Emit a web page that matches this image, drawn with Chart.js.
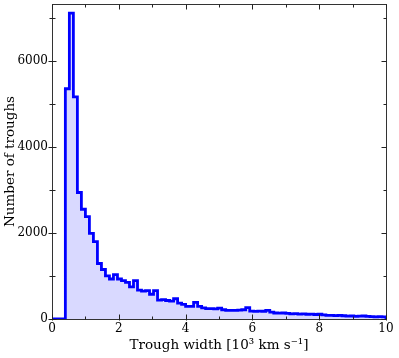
<!DOCTYPE html>
<html>
<head>
<meta charset="utf-8">
<script src="https://cdn.jsdelivr.net/npm/chart.js@4/dist/chart.umd.min.js"></script>
<style>
  html, body { margin: 0; padding: 0; background: #ffffff; }
  #wrap { width: 399px; height: 358px; }
</style>
</head>
<body>
<div id="wrap"><canvas id="c" width="399" height="358"></canvas></div>
<script>
// Histogram bin edges (10^3 km/s)
const binEdges = [0.40, 0.52, 0.64, 0.76, 0.88, 1.00, 1.12, 1.24, 1.36, 1.48,
  1.60, 1.72, 1.84, 1.96, 2.08, 2.20, 2.32, 2.44, 2.56, 2.68,
  2.80, 2.92, 3.04, 3.16, 3.28, 3.40, 3.52, 3.64, 3.76, 3.88,
  4.00, 4.12, 4.24, 4.36, 4.48, 4.60, 4.72, 4.84, 4.96, 5.08,
  5.20, 5.32, 5.44, 5.56, 5.68, 5.80, 5.92, 6.04, 6.16, 6.28,
  6.40, 6.52, 6.64, 6.76, 6.88, 7.00, 7.12, 7.24, 7.36, 7.48,
  7.60, 7.72, 7.84, 7.96, 8.08, 8.20, 8.32, 8.44, 8.56, 8.68,
  8.80, 8.92, 9.04, 9.16, 9.28, 9.40, 9.52, 9.64, 9.76, 9.88, 10.00];

// Number of troughs per bin
const troughCounts = [5350, 7110, 5160, 2940, 2550, 2380, 1990, 1800, 1290, 1150,
  1000, 930, 1030, 930, 890, 850, 745, 890, 670, 650,
  660, 575, 660, 440, 450, 430, 415, 470, 370, 340,
  295, 295, 385, 295, 260, 240, 240, 235, 255, 215,
  200, 200, 200, 205, 215, 265, 185, 175, 185, 180,
  200, 160, 140, 135, 140, 130, 120, 125, 115, 120,
  110, 115, 105, 110, 95, 85, 85, 80, 85, 75,
  65, 70, 60, 65, 70, 60, 55, 50, 55, 50];

const xMajorTicks = [0, 2, 4, 6, 8, 10];
const xMinorTicks = [1, 3, 5, 7, 9];
const yMajorTicks = [0, 2000, 4000, 6000];
const yMinorTicks = [1000, 3000, 5000, 7000];

const xTitle = 'Trough width [10\u00B3 km s\u207B\u00B9]';
const yTitle = 'Number of troughs';

// Build step data from the arrays
const stepData = [{ x: 0, y: 0 }];
troughCounts.forEach((c, i) => stepData.push({ x: binEdges[i], y: c }));
stepData.push({ x: binEdges[binEdges.length - 1], y: troughCounts[troughCounts.length - 1] });
stepData.push({ x: binEdges[binEdges.length - 1], y: 0 });

const SERIF = '"DejaVu Serif", "Liberation Serif", serif';

const framePlugin = {
  id: 'frame',
  beforeDatasetsDraw(chart) {
    const { ctx, chartArea: a } = chart;
    ctx.save();
    ctx.strokeStyle = '#333333';
    ctx.lineWidth = 1;
    ctx.strokeRect(Math.round(a.left) + 0.5, Math.round(a.top) + 0.5,
      Math.round(a.right - a.left), Math.round(a.bottom - a.top));
    ctx.restore();
  },
  afterDatasetsDraw(chart) {
    const { ctx, chartArea: a, scales } = chart;
    const xs = scales.x, ys = scales.y;
    ctx.save();
    ctx.strokeStyle = '#222222';
    ctx.lineWidth = 1;
    const line = (x1, y1, x2, y2) => {
      ctx.beginPath(); ctx.moveTo(x1, y1); ctx.lineTo(x2, y2); ctx.stroke();
    };
    const bot = Math.round(a.bottom) + 0.5, top = Math.round(a.top) + 0.5;
    const lef = Math.round(a.left) + 0.5, rig = Math.round(a.right) + 0.5;
    xMajorTicks.forEach(v => {
      const px = Math.round(xs.getPixelForValue(v)) + 0.5;
      line(px, bot + 1, px, bot - 5);
      line(px, top, px, top + 5);
    });
    xMinorTicks.forEach(v => {
      const px = Math.round(xs.getPixelForValue(v)) + 0.5;
      line(px, bot, px, bot - 3);
      line(px, top, px, top + 3);
    });
    yMajorTicks.forEach(v => {
      const py = Math.round(ys.getPixelForValue(v)) + 0.5;
      line(lef - 4, py, lef + 4, py);
      line(rig, py, rig - 5, py);
    });
    yMinorTicks.forEach(v => {
      const py = Math.round(ys.getPixelForValue(v)) + 0.5;
      line(lef - 3, py, lef + 3, py);
      line(rig, py, rig - 3, py);
    });
    ctx.restore();
  }
};

new Chart(document.getElementById('c'), {
  type: 'line',
  data: {
    datasets: [{
      data: stepData,
      stepped: 'before',
      borderColor: '#0000ff',
      borderWidth: 2.8,
      backgroundColor: 'rgba(0,0,255,0.15)',
      fill: 'origin',
      pointRadius: 0,
      tension: 0
    }]
  },
  options: {
    responsive: false,
    animation: false,
    devicePixelRatio: 1,
    layout: { padding: { left: 0, top: 4, right: 13, bottom: 0 } },
    plugins: { legend: { display: false }, tooltip: { enabled: false } },
    scales: {
      x: {
        type: 'linear',
        min: 0, max: 10,
        grid: { display: false, drawTicks: false },
        border: { display: false },
        afterBuildTicks(scale) { scale.ticks = xMajorTicks.map(v => ({ value: v })); },
        afterFit(scale) { scale.height = 39; scale.paddingLeft = 0; scale.paddingRight = 0; },
        ticks: {
          color: '#000', padding: 3,
          font: { family: SERIF, size: 12 },
          maxRotation: 0,
          callback: v => String(v)
        },
        title: {
          display: true, text: xTitle, color: '#000',
          font: { family: SERIF, size: 13.5 },
          padding: { top: 0, bottom: 4 }
        }
      },
      y: {
        type: 'linear',
        min: 0, max: 7320,
        grid: { display: false, drawTicks: false },
        border: { display: false },
        afterBuildTicks(scale) { scale.ticks = yMajorTicks.map(v => ({ value: v })); },
        afterFit(scale) { scale.width = 52; scale.paddingTop = 0; scale.paddingBottom = 0; },
        ticks: {
          color: '#000', padding: 4,
          font: { family: SERIF, size: 12 },
          callback: v => String(v)
        },
        title: {
          display: true, text: yTitle, color: '#000',
          font: { family: SERIF, size: 13.5 },
          padding: { top: 2, bottom: 0 }
        }
      }
    }
  },
  plugins: [framePlugin]
});
</script>
</body>
</html>
